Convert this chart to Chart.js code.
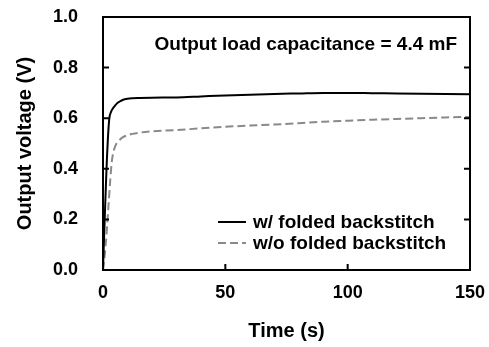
<!DOCTYPE html>
<html>
<head>
<meta charset="utf-8">
<script src="https://cdn.jsdelivr.net/npm/chart.js@4.4.0/dist/chart.umd.min.js"></script>
<style>
  html, body { margin: 0; padding: 0; background: #fff; }
  #wrap { width: 489px; height: 347px; }
</style>
</head>
<body>
<div id="wrap"><canvas id="voltChart" width="489" height="347"></canvas></div>
<script>
// time axis (s) and measured output voltage (V)
var timeWith = [0, 0.4, 0.8, 1.2, 1.6, 2, 2.6, 3.3, 4, 5, 6, 7, 8, 10, 12, 15, 20, 30, 40, 50, 60, 70, 80, 90, 100, 110, 120, 130, 140, 150];
var voltWith = [0, 0.12, 0.23, 0.34, 0.44, 0.52, 0.6, 0.625, 0.638, 0.651, 0.661, 0.667, 0.672, 0.677, 0.679, 0.68, 0.681, 0.682, 0.686, 0.69, 0.693, 0.696, 0.698, 0.7, 0.7, 0.699, 0.698, 0.697, 0.696, 0.695];

var timeWithout = [0, 0.5, 1, 1.5, 2, 2.5, 3, 3.5, 4, 5, 6, 7, 8, 10, 12, 15, 20, 30, 40, 50, 60, 70, 80, 90, 100, 110, 120, 130, 140, 150];
var voltWithout = [0, 0.04, 0.09, 0.15, 0.22, 0.29, 0.36, 0.42, 0.455, 0.49, 0.506, 0.516, 0.524, 0.533, 0.538, 0.543, 0.548, 0.553, 0.56, 0.566, 0.571, 0.575, 0.58, 0.586, 0.59, 0.594, 0.597, 0.6, 0.603, 0.605];

var seriesNames = ['w/ folded backstitch', 'w/o folded backstitch'];
var noteText = 'Output load capacitance = 4.4 mF';
var xTicks = [0, 50, 100, 150];
var yTicks = [0, 0.2, 0.4, 0.6, 0.8, 1.0];

function toPoints(xs, ys) {
  var pts = [];
  for (var i = 0; i < xs.length; i++) pts.push({x: xs[i], y: ys[i]});
  return pts;
}

var FONT = 'Liberation Sans, Arial, sans-serif';

// frame with inward ticks, note text and the inset legend
var framePlugin = {
  id: 'framePlugin',
  afterDraw: function(chart) {
    var ctx = chart.ctx;
    var a = chart.chartArea;
    var xs = chart.scales.x, ys = chart.scales.y;
    ctx.save();
    ctx.strokeStyle = '#000';
    ctx.lineWidth = 2;
    ctx.strokeRect(a.left, a.top, a.right - a.left, a.bottom - a.top);
    ctx.beginPath();
    xTicks.forEach(function(v) {
      var px = xs.getPixelForValue(v);
      ctx.moveTo(px, a.bottom);
      ctx.lineTo(px, a.bottom - 6);
    });
    yTicks.forEach(function(v) {
      var py = ys.getPixelForValue(v);
      ctx.moveTo(a.left, py);
      ctx.lineTo(a.left + 6, py);
      ctx.moveTo(a.right, py);
      ctx.lineTo(a.right - 6, py);
    });
    ctx.stroke();

    ctx.fillStyle = '#000';
    ctx.font = 'bold 19px ' + FONT;
    ctx.textBaseline = 'middle';
    ctx.textAlign = 'right';
    ctx.fillText(noteText, a.right - 13, 45);

    // legend
    ctx.textAlign = 'left';
    var rows = [{y: 222, ds: chart.data.datasets[0]}, {y: 243, ds: chart.data.datasets[1]}];
    rows.forEach(function(r, i) {
      ctx.beginPath();
      ctx.strokeStyle = r.ds.borderColor;
      ctx.lineWidth = 2;
      ctx.setLineDash(r.ds.borderDash || []);
      ctx.moveTo(218, r.y);
      ctx.lineTo(246, r.y);
      ctx.stroke();
      ctx.setLineDash([]);
      ctx.fillText(seriesNames[i], 253, r.y + 1);
    });
    ctx.restore();
  }
};

function noPad(s) {
  s.paddingTop = 0; s.paddingBottom = 0; s.paddingLeft = 0; s.paddingRight = 0;
}

var config = {
  type: 'line',
  data: {
    datasets: [{
      label: seriesNames[0],
      data: toPoints(timeWith, voltWith),
      borderColor: '#000000',
      borderWidth: 2,
      pointRadius: 0,
      cubicInterpolationMode: 'monotone',
      fill: false
    }, {
      label: seriesNames[1],
      data: toPoints(timeWithout, voltWithout),
      borderColor: '#8a8a8a',
      borderWidth: 2,
      borderDash: [8, 4],
      pointRadius: 0,
      cubicInterpolationMode: 'monotone',
      fill: false
    }]
  },
  options: {
    responsive: false,
    animation: false,
    events: [],
    layout: { padding: { left: 0, right: 19, top: 17, bottom: 0 } },
    plugins: { legend: { display: false }, tooltip: { enabled: false } },
    scales: {
      x: {
        type: 'linear',
        min: 0, max: 150,
        afterFit: function(s) { s.height = 77; noPad(s); },
        afterBuildTicks: function(s) { s.ticks = xTicks.map(function(v) { return {value: v}; }); },
        grid: { display: false, drawTicks: false },
        border: { display: false },
        ticks: { color: '#000', font: { family: FONT, size: 18, weight: 'bold' }, padding: 12, maxRotation: 0 },
        title: { display: true, text: 'Time (s)', color: '#000', font: { family: FONT, size: 20, weight: 'bold' }, padding: { top: 4, bottom: 4 } }
      },
      y: {
        min: 0, max: 1,
        afterFit: function(s) { s.width = 103; noPad(s); },
        afterBuildTicks: function(s) { s.ticks = yTicks.map(function(v) { return {value: v}; }); },
        grid: { display: false, drawTicks: false },
        border: { display: false },
        ticks: { color: '#000', font: { family: FONT, size: 18, weight: 'bold' }, padding: 25,
          callback: function(v) { return v.toFixed(1); } },
        title: { display: true, text: 'Output voltage (V)', color: '#000', font: { family: FONT, size: 20, weight: 'bold' }, padding: { top: 13, bottom: 13 } }
      }
    }
  },
  plugins: [framePlugin]
};

var voltChart = new Chart(document.getElementById('voltChart'), config);
</script>
</body>
</html>
